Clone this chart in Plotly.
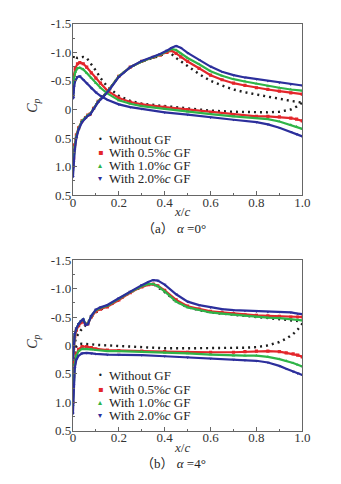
import plotly.graph_objects as go

# ---------------- data: panel (a), alpha = 0 deg ----------------
xa_up = [0.0, 0.003, 0.008, 0.015, 0.025, 0.04, 0.055, 0.065, 0.075, 0.09, 0.11, 0.13, 0.16, 0.2,
         0.25, 0.3, 0.35, 0.38, 0.41, 0.43, 0.45, 0.47, 0.5, 0.55, 0.6, 0.65, 0.7, 0.75, 0.8, 0.85,
         0.9, 0.95, 1.0]
a_up_none = [0.95, 0.8, 0.6, 0.45, 0.32, 0.2, 0.13, 0.1, 0.08, -0.02, -0.14, -0.22, -0.36, -0.58,
             -0.74, -0.84, -0.9, -0.94, -1.0, -0.97, -0.9, -0.84, -0.76, -0.62, -0.5, -0.42, -0.35,
             -0.3, -0.26, -0.22, -0.18, -0.15, -0.12]
a_up_05 = [1.0, 0.85, 0.62, 0.45, 0.32, 0.2, 0.14, 0.1, 0.08, -0.02, -0.14, -0.22, -0.36, -0.58,
           -0.74, -0.84, -0.91, -0.95, -1.0, -1.03, -0.98, -0.92, -0.84, -0.72, -0.6, -0.52, -0.46,
           -0.42, -0.38, -0.35, -0.32, -0.29, -0.27]
a_up_10 = [1.05, 0.9, 0.65, 0.47, 0.33, 0.2, 0.14, 0.1, 0.08, -0.02, -0.14, -0.22, -0.36, -0.58,
           -0.74, -0.84, -0.91, -0.96, -1.02, -1.06, -1.04, -0.98, -0.9, -0.79, -0.67, -0.59, -0.53,
           -0.49, -0.45, -0.41, -0.38, -0.35, -0.33]
a_up_20 = [1.18, 1.0, 0.7, 0.5, 0.35, 0.22, 0.15, 0.11, 0.09, -0.01, -0.13, -0.21, -0.35, -0.57,
           -0.74, -0.85, -0.92, -0.97, -1.03, -1.08, -1.11, -1.08, -0.99, -0.87, -0.75, -0.66, -0.6,
           -0.56, -0.53, -0.5, -0.47, -0.44, -0.42]

xa_lo = [0.002, 0.005, 0.01, 0.02, 0.03, 0.045, 0.06, 0.08, 0.1, 0.12, 0.15, 0.2, 0.25, 0.3, 0.4,
         0.5, 0.6, 0.7, 0.8, 0.85, 0.9, 0.95, 0.975, 1.0]
a_lo_none = [-0.9, -0.95, -0.92, -0.9, -0.91, -0.92, -0.9, -0.8, -0.68, -0.55, -0.4, -0.24, -0.15,
             -0.1, -0.06, -0.02, 0.02, 0.04, 0.05, 0.05, 0.04, 0.0, -0.05, -0.12]
a_lo_05 = [-0.35, -0.6, -0.72, -0.8, -0.82, -0.8, -0.74, -0.64, -0.55, -0.46, -0.33, -0.2, -0.13,
           -0.09, -0.04, 0.0, 0.05, 0.09, 0.12, 0.12, 0.13, 0.15, 0.17, 0.2]
a_lo_10 = [-0.3, -0.55, -0.65, -0.72, -0.73, -0.7, -0.64, -0.55, -0.46, -0.38, -0.28, -0.16, -0.1,
           -0.06, -0.01, 0.04, 0.08, 0.12, 0.15, 0.17, 0.21, 0.27, 0.3, 0.34]
a_lo_20 = [-0.2, -0.4, -0.5, -0.57, -0.58, -0.52, -0.46, -0.37, -0.3, -0.24, -0.17, -0.09, -0.04,
           -0.01, 0.05, 0.09, 0.14, 0.18, 0.22, 0.26, 0.32, 0.39, 0.43, 0.47]

# ---------------- data: panel (b), alpha = 4 deg ----------------
xb_up = [0.0, 0.003, 0.008, 0.015, 0.025, 0.035, 0.045, 0.055, 0.065, 0.08, 0.1, 0.12, 0.15, 0.2,
         0.25, 0.3, 0.33, 0.35, 0.37, 0.4, 0.45, 0.5, 0.55, 0.6, 0.65, 0.7, 0.75, 0.8, 0.85, 0.9,
         0.95, 0.98, 1.0]
b_up_none = [0.35, 0.12, -0.05, -0.15, -0.22, -0.27, -0.31, -0.35, -0.4, -0.5, -0.58, -0.63, -0.68,
             -0.8, -0.93, -1.03, -1.08, -1.08, -1.03, -0.94, -0.77, -0.67, -0.62, -0.58, -0.56,
             -0.54, -0.52, -0.51, -0.49, -0.47, -0.45, -0.43, -0.38]
b_up_05 = [0.3, 0.05, -0.15, -0.27, -0.35, -0.4, -0.42, -0.37, -0.38, -0.5, -0.6, -0.64, -0.68,
           -0.8, -0.93, -1.03, -1.07, -1.08, -1.05, -0.97, -0.8, -0.69, -0.64, -0.6, -0.58, -0.56,
           -0.54, -0.53, -0.52, -0.51, -0.5, -0.5, -0.5]
b_up_10 = [0.25, 0.0, -0.2, -0.3, -0.38, -0.43, -0.46, -0.38, -0.38, -0.52, -0.62, -0.66, -0.7,
           -0.82, -0.94, -1.04, -1.08, -1.08, -1.04, -0.95, -0.77, -0.67, -0.62, -0.58, -0.56,
           -0.54, -0.52, -0.5, -0.49, -0.48, -0.46, -0.45, -0.44]
b_up_20 = [0.25, 0.0, -0.2, -0.3, -0.38, -0.43, -0.46, -0.36, -0.37, -0.52, -0.63, -0.67, -0.71,
           -0.83, -0.95, -1.06, -1.12, -1.15, -1.14, -1.07, -0.9, -0.77, -0.71, -0.67, -0.64, -0.62,
           -0.61, -0.6, -0.59, -0.59, -0.58, -0.56, -0.55]

xb_lo = [0.0, 0.003, 0.008, 0.015, 0.025, 0.04, 0.06, 0.08, 0.1, 0.15, 0.2, 0.3, 0.4, 0.5, 0.6,
         0.7, 0.75, 0.8, 0.85, 0.9, 0.93, 0.96, 0.98, 1.0]
b_lo_none = [0.35, 0.2, 0.1, 0.02, -0.02, -0.03, -0.03, -0.02, -0.01, 0.0, 0.02, 0.04, 0.05, 0.05,
             0.05, 0.05, 0.04, 0.03, 0.0, -0.06, -0.12, -0.2, -0.28, -0.38]
b_lo_05 = [1.0, 0.55, 0.3, 0.15, 0.07, 0.02, 0.02, 0.04, 0.06, 0.08, 0.09, 0.1, 0.11, 0.12, 0.12,
           0.12, 0.11, 0.1, 0.1, 0.11, 0.13, 0.15, 0.17, 0.2]
b_lo_10 = [1.05, 0.6, 0.33, 0.18, 0.1, 0.06, 0.06, 0.07, 0.08, 0.1, 0.1, 0.11, 0.13, 0.14, 0.16,
           0.18, 0.18, 0.18, 0.2, 0.24, 0.27, 0.31, 0.34, 0.37]
b_lo_20 = [1.2, 0.7, 0.4, 0.25, 0.18, 0.14, 0.13, 0.14, 0.15, 0.16, 0.16, 0.17, 0.19, 0.21, 0.23,
           0.25, 0.26, 0.27, 0.3, 0.36, 0.41, 0.46, 0.49, 0.52]

series_names = ["Without GF", "With 0.5%<i>c</i> GF", "With 1.0%<i>c</i> GF", "With 2.0%<i>c</i> GF"]
colors = ["#1e1e1e", "#e3262b", "#2fb448", "#2c2f9c"]
symbols = ["circle", "square", "triangle-up", "triangle-down"]
legend_glyphs = ["\u2022", "\u25aa", "\u25b4", "\u25be"]

x_tick_vals = [0, 0.2, 0.4, 0.6, 0.8, 1.0]
x_tick_text = ["0", "0.2", "0.4", "0.6", "0.8", "1.0"]
y_tick_vals = [-1.5, -1.0, -0.5, 0, 0.5, 1.0, 1.5]
y_tick_text = ["-1.5", "-1.0", "-0.5", "0", "0.5", "1.0", "0.5"]

panels = [
    dict(xu=xa_up, xl=xa_lo, up=[a_up_none, a_up_05, a_up_10, a_up_20],
         lo=[a_lo_none, a_lo_05, a_lo_10, a_lo_20], caption="（a） <i>α</i> =0°"),
    dict(xu=xb_up, xl=xb_lo, up=[b_up_none, b_up_05, b_up_10, b_up_20],
         lo=[b_lo_none, b_lo_05, b_lo_10, b_lo_20], caption="（b） <i>α</i> =4°"),
]

W, H = 341, 484
OFF = 8  # page body margin offset compensation
X0, X1 = 72 - OFF, 309 - OFF
panel_px = [(17 - OFF, 194 - OFF), (261 - OFF, 437 - OFF)]  # top, bottom pixel rows of plot area

SERIF = "Liberation Serif, Times New Roman, serif"
fig = go.Figure()
annotations = []


def ann(text, px, py, size, color="#222", family=SERIF, xanchor="center", **kw):
    annotations.append(dict(text=text, xref="paper", yref="paper", x=px / W, y=1 - py / H,
                            showarrow=False, xanchor=xanchor, yanchor="middle",
                            font=dict(family=family, size=size, color=color), **kw))


for p, (panel, (ptop, pbot)) in enumerate(zip(panels, panel_px)):
    xa = "x" if p == 0 else "x2"
    ya = "y" if p == 0 else "y2"
    for i in range(4):
        xs = list(panel["xu"]) + [None] + list(panel["xl"])
        ys = list(panel["up"][i]) + [None] + list(panel["lo"][i])
        if i == 0:
            fig.add_trace(go.Scatter(x=xs, y=ys, xaxis=xa, yaxis=ya, mode="lines",
                                     line=dict(color=colors[i], width=2.4, dash="2px,4px"),
                                     showlegend=False, hoverinfo="skip"))
        else:
            fig.add_trace(go.Scatter(x=xs, y=ys, xaxis=xa, yaxis=ya, mode="lines+markers",
                                     line=dict(color=colors[i], width=2.2),
                                     marker=dict(symbol=symbols[i], size=3.2, color=colors[i]),
                                     showlegend=False, hoverinfo="skip"))
    dom_y = [1 - pbot / H, 1 - ptop / H]
    ax_common = dict(showline=True, linecolor="#666", linewidth=1, mirror=True,
                     ticks="inside", ticklen=4, tickcolor="#666", showgrid=False, zeroline=False,
                     tickfont=dict(family=SERIF, size=13, color="#333"))
    xkey = "xaxis" if p == 0 else "xaxis2"
    ykey = "yaxis" if p == 0 else "yaxis2"
    fig.update_layout(**{
        xkey: dict(ax_common, domain=[X0 / W, X1 / W], range=[0, 1], anchor=ya,
                   tickmode="array", tickvals=x_tick_vals, ticktext=x_tick_text,
                   ticklabelstandoff=-5,
                   minor=dict(ticks="inside", dtick=0.1, tick0=0, ticklen=2, tickcolor="#666")),
        ykey: dict(ax_common, domain=dom_y, range=[1.5, -1.5], anchor=xa,
                   tickmode="array", tickvals=y_tick_vals, ticktext=y_tick_text,
                   ticklabelstandoff=-2,
                   minor=dict(ticks="inside", dtick=0.25, tick0=0, ticklen=2, tickcolor="#666")),
    })
    # axis titles
    ann("<i>x</i>/<i>c</i>", 185 - OFF, pbot + 17, 13, color="#333")
    ann("<i>C</i><sub><i>p</i></sub>", 31 - OFF, (ptop + pbot) / 2 - 4, 14, color="#333",
        textangle=-90)
    # caption
    ann(panel["caption"], 176 - OFF, pbot + 34, 13,
        family="Liberation Serif, Noto Sans CJK SC, serif")
    # legend (inside plot)
    for i in range(4):
        ry = ptop + 119.5 + 13.5 * i
        ann(legend_glyphs[i], 100 - OFF, ry, 8, color=colors[i], family="DejaVu Sans")
        ann(series_names[i], 107 - OFF, ry, 13, xanchor="left")

fig.update_layout(width=W, height=H, margin=dict(l=0, r=0, t=0, b=0),
                  paper_bgcolor="white", plot_bgcolor="white", showlegend=False,
                  annotations=annotations)

fig.write_html("out.html")
